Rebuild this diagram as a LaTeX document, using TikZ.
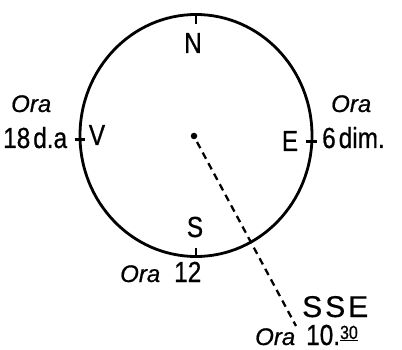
\documentclass[tikz,border=0pt]{standalone}
\usepackage{fontspec}
\setmainfont{Liberation Sans}[FakeBold=0.6]
\newfontfamily\narrowf{Liberation Sans}[FakeStretch=0.84,FakeBold=0.7]
\usetikzlibrary{shapes.geometric}
\begin{document}
\begin{tikzpicture}[x=1pt,y=-1pt,
  lbl/.style={inner sep=0pt, font=\narrowf\fontsize{29}{29}\selectfont},
  ora/.style={inner sep=0pt, font=\fontsize{24}{24}\selectfont\itshape},
  tick/.style={line width=2.6pt},
  dial/.style={draw, ellipse, line width=2.8pt, inner sep=0pt, minimum width=232pt, minimum height=242pt}]
\useasboundingbox (0,0) rectangle (402,350);
\node[dial] (c) at (196,135.5) {};
\draw[tick] (c.north) -- ++(0,11);
\draw[tick] (c.south) -- ++(0,-10);
\draw[tick] (c.west) ++(-4,4) -- ++(10,0);
\draw[tick] (c.east) ++(-7,6) -- ++(11,0);
\node[circle, fill, inner sep=0pt, minimum size=6.5pt] (dot) at (194,136) {};
\coordinate (end) at (296,326);
\draw[line width=2.3pt, dash pattern=on 7pt off 5pt] (dot) ++(3,6) -- (end);
\node[lbl, anchor=base] (n) at (193,53) {N};
\node[lbl, anchor=base] (v) at (97,145) {V};
\node[lbl, anchor=base] (e) at (290,151) {E};
\node[lbl, anchor=base] (s) at (195,237) {S};
\node[ora, anchor=base west] (o1) at (11,112) {Ora};
\node[lbl, anchor=base west] (t1) at (3,148) {18\kern3pt d.a};
\node[ora, anchor=base west] (o2) at (331,112) {Ora};
\node[lbl, anchor=base west] (t2) at (322,148) {6\kern3pt dim.};
\node[ora, anchor=base west] (o3) at (120,282) {Ora};
\node[lbl, anchor=base west] (t3) at (174,282) {12};
\node[inner sep=0pt, anchor=base west, text depth=0pt, font=\fontsize{30}{30}\selectfont] (sse) at (302,317) {S\kern3pt S\kern3pt E};
\node[ora, anchor=base west] (o4) at (255,345) {Ora};
\node[lbl, anchor=base west] (t4) at (306,345) {10.\raisebox{6pt}{\fontsize{19}{19}\selectfont\underline{30}}};
\end{tikzpicture}
\end{document}
